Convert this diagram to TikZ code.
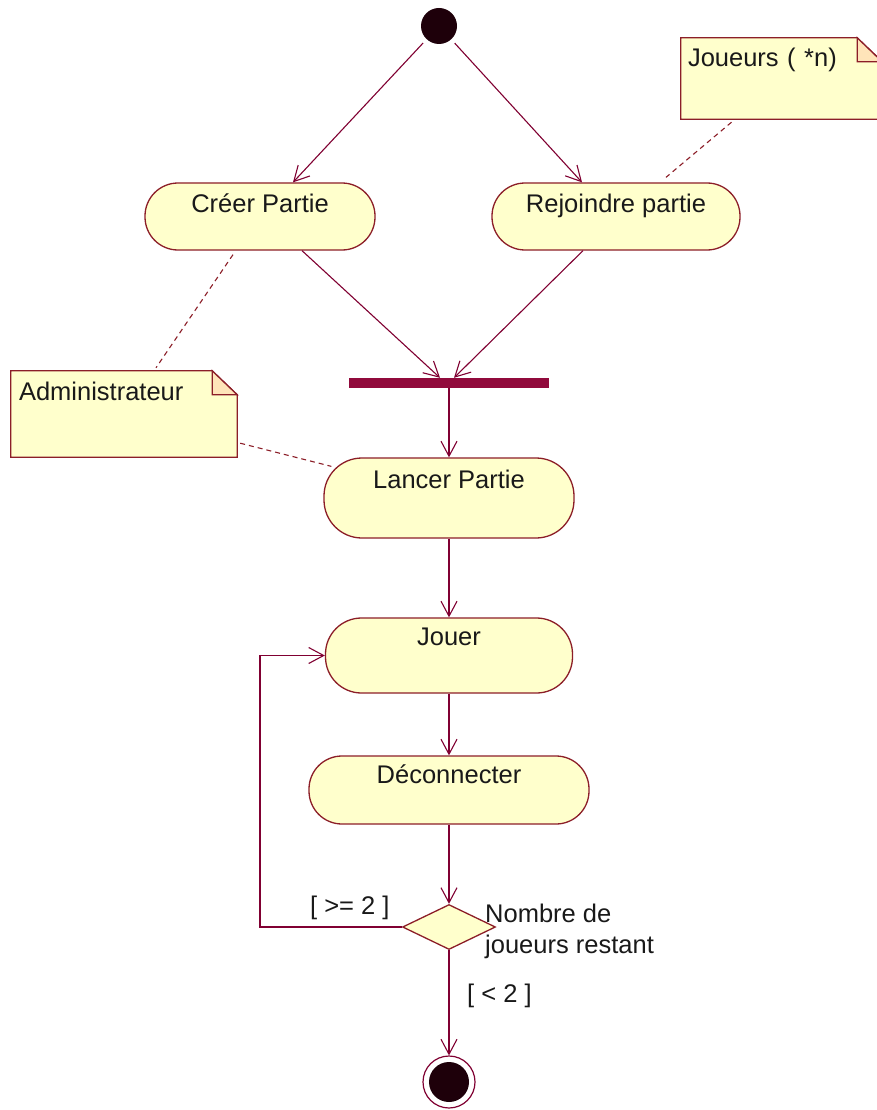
\documentclass[tikz,border=0pt]{standalone}
\usepackage{fontspec}
\setmainfont{Liberation Sans}
\usetikzlibrary{arrows.meta,shapes.geometric,backgrounds}
\definecolor{flowcol}{RGB}{128,0,50}
\definecolor{boxcol}{RGB}{140,30,40}
\definecolor{boxfill}{RGB}{255,255,204}
\definecolor{foldfill}{RGB}{255,228,185}
\definecolor{barcol}{RGB}{145,10,60}
\definecolor{dotcol}{RGB}{30,0,10}
\definecolor{textcol}{RGB}{25,25,25}
\begin{document}
\begin{tikzpicture}[x=1pt,y=-1pt,
  every node/.style={font=\fontsize{25.5}{31}\selectfont, text=textcol},
  actbox/.style={draw=boxcol, fill=boxfill, line width=1.3pt, rounded corners=33pt,
    inner sep=0pt, minimum height=67pt, text height=29pt},
  notebox/.style={inner xsep=8pt, inner ysep=0pt, align=left, text height=29pt},
  flowline/.style={draw=flowcol, line width=1.1pt, -{Straight Barb[length=15pt,width=16pt]}},
  notelink/.style={draw=boxcol, line width=1.1pt, dash pattern=on 5pt off 4pt},
  guardlbl/.style={inner sep=0pt, anchor=base west}]
\clip (0,0) rectangle (877,1110);

% initial and final states, synchronisation bar, decision
\node[circle, fill=dotcol, minimum size=36pt, inner sep=0pt] (start) at (439,26) {};
\node[fill=barcol, minimum width=200pt, minimum height=10pt, inner sep=0pt] (bar) at (449,383) {};
\node[diamond, draw=boxcol, fill=boxfill, line width=1.3pt, minimum width=93pt,
      minimum height=45pt, inner sep=0pt] (dia) at (449,927) {};
\node[circle, draw=flowcol, line width=1.2pt, minimum size=52pt, inner sep=0pt] (fin) at (449,1082) {};
\fill[dotcol] (fin.center) circle[radius=20pt];

% activities
\node[actbox, minimum width=230pt, text depth=38pt] (creer) at (260,216.5) {Créer Partie};
\node[actbox, minimum width=248pt, text depth=38pt] (rej) at (616,216.5) {Rejoindre partie};
\node[actbox, rounded corners=38pt, minimum width=250pt, text height=30pt, text depth=50pt] (lancer) at (449,498) {Lancer Partie};
\node[actbox, rounded corners=36pt, minimum width=247pt, text height=27pt, text depth=48pt] (jouer) at (449,655.5) {Jouer};
\node[actbox, minimum width=280pt, text height=27pt, text depth=41pt] (deco) at (449,790) {Déconnecter};

% notes
\node[notebox, text width=210pt, text depth=57pt] (adm) at (124,414) {Administrateur};
\node[notebox, inner xsep=7pt, text width=187pt, text depth=52pt] (jou) at (781.5,78.5) {Joueurs ( *n)};

\begin{pgfonlayer}{background}
  \fill[white] (0,0) rectangle (877,1110);
  \foreach \n in {adm,jou} {
    \filldraw[draw=boxcol, fill=boxfill, line width=1.3pt]
      (\n.north west) -- ([xshift=-25pt]\n.north east) -- ([yshift=-24pt]\n.north east)
      -- (\n.south east) -- (\n.south west) -- cycle;
    \filldraw[draw=boxcol, fill=foldfill, line width=1.3pt]
      ([xshift=-25pt]\n.north east) -- ([xshift=-25pt,yshift=-24pt]\n.north east)
      -- ([yshift=-24pt]\n.north east) -- cycle;
  }
\end{pgfonlayer}

% control flow
\draw[flowline, shorten <=5pt] (start) -- ([xshift=33pt]creer.north);
\draw[flowline, shorten <=5pt] (start) -- ([xshift=-34pt]rej.north);
\draw[flowline] ([xshift=42pt]creer.south) -- ([xshift=-9pt]bar.north);
\draw[flowline] ([xshift=-33pt]rej.south) -- ([xshift=5pt]bar.north);
\draw[flowline] (bar.south) -- (lancer.north);
\draw[flowline] (lancer.south) -- (jouer.north);
\draw[flowline] (jouer.south) -- (deco.north);
\draw[flowline] (deco.south) -- (dia.north);
\draw[flowline] (dia.south) -- (fin.north);
\coordinate (turn) at (260,927);
\draw[flowline] (dia.west) -- (turn) |- (jouer.west);

% note attachments
\draw[notelink] ([xshift=-27pt,yshift=-4pt]creer.south) -- ([xshift=32pt,yshift=3pt]adm.north);
\draw[notelink] ([xshift=3pt,yshift=14pt]adm.south east) -- ([xshift=8pt,yshift=-9pt]lancer.north west);
\draw[notelink] ([xshift=-50pt,yshift=-3pt]jou.south) -- ([xshift=50pt,yshift=5pt]rej.north);

% guards and decision label
\node[guardlbl] (ge) at (310,914) {[ >= 2 ]};
\node[guardlbl] (gl) at (467,1002) {[ < 2 ]};
\node[inner sep=0pt, align=left, anchor=north west] (cond) at (485,904) {Nombre de\\joueurs restant};
\end{tikzpicture}
\end{document}
